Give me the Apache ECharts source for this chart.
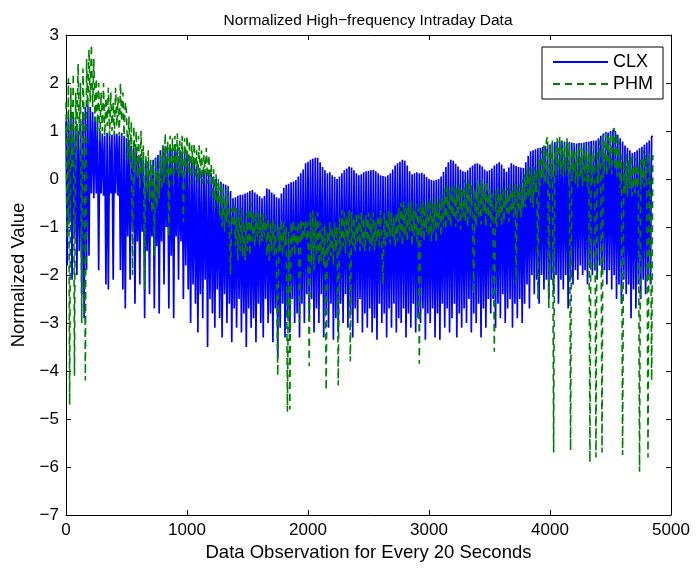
<!DOCTYPE html>
<html><head><meta charset="utf-8">
<script src="https://cdn.jsdelivr.net/npm/echarts@6/dist/echarts.min.js"></script>
<style>html,body{margin:0;padding:0;background:#fff}#c{width:696px;height:569px}</style>
</head><body><div id="c"></div>
<script>
// sampling interval (observations between consecutive stored values)
const STEP = 10;

const clx0 = [1.2,-1.8,1.3,-0.9,1.4,-2.1,1.3,-1.2,1.1,-2.0,1.0,-1.5,1.2,-2.4,1.4,-2.9,1.5,-1.9,1.55,-1.6,1.5,-0.3,1.4,-0.4,1.3,-0.3,1.2,-1.9,1.0,-0.3,0.95,-0.35,0.9,-2.2,0.96,-2.3,0.95,-0.3,0.92,-2.1,0.96,-0.3,0.94,-0.35,0.9,-1.9,0.96,-2.3,0.9,-2.7];
const clx1 = [0.85,-1.2,0.8,-2.1,0.7,-1.1,0.65,-2.6,0.6,-1.3,0.5,-2.2,0.45,-1.1,0.4,-2.9,0.38,-1.5,0.35,-2.4,0.3,-1.2,0.4,-2.7,0.45,-1.4,0.5,-2.8,0.6,-1.3,0.7,-2.2,0.68,-1.0,0.66,-2.7,0.64,-1.6,0.65,-2.9,0.66,-1.2,0.63,-2.1,0.6,-1.3,0.58,-2.5,0.56,-1.8];
const clx2 = [0.54,-2.3,0.48,-3.0,0.42,-2.2,0.35,-2.6,0.28,-3.2,0.2,-2.4,0.18,-2.9,0.2,-2.1,0.15,-3.5,0.16,-2.5,0.12,-2.8,0.05,-3.1,0.0,-2.3,-0.08,-2.9,-0.06,-3.3,-0.1,-2.4,-0.12,-3.0,-0.15,-2.6,-0.25,-3.4,-0.4,-2.7,-0.38,-3.1,-0.35,-2.5,-0.33,-3.2,-0.33,-2.8,-0.3,-3.5];
const clx3 = [-0.28,-2.7,-0.25,-3.1,-0.23,-2.9,-0.28,-3.4,-0.32,-2.6,-0.36,-3.0,-0.4,-3.3,-0.35,-2.5,-0.2,-3.0,-0.22,-2.8,-0.28,-3.4,-0.32,-2.7,-0.38,-3.7,-0.4,-3.1,-0.3,-2.6,-0.18,-3.3,-0.12,-2.9,-0.1,-3.2,-0.07,-2.5,-0.05,-3.0,-0.02,-2.8,0.05,-3.3,0.12,-2.6,0.2,-3.0,0.33,-2.4];
const clx4 = [0.36,-2.9,0.4,-2.5,0.42,-3.2,0.44,-2.7,0.44,-3.0,0.35,-2.4,0.25,-3.3,0.18,-2.8,0.12,-3.1,0.14,-2.6,0.08,-3.35,0.04,-2.9,0.0,-3.2,0.05,-2.6,0.12,-3.0,0.18,-2.4,0.22,-3.1,0.26,-2.8,0.24,-3.3,0.18,-2.7,0.12,-3.0,0.08,-2.5,0.1,-3.2,0.14,-2.8,0.16,-3.1];
const clx5 = [0.17,-2.7,0.18,-3.2,0.19,-2.9,0.16,-3.35,0.12,-2.6,0.08,-3.0,0.06,-2.8,0.05,-3.3,0.08,-2.7,0.12,-3.1,0.2,-2.6,0.28,-3.2,0.33,-2.9,0.36,-3.0,0.4,-2.7,0.38,-3.3,0.28,-2.8,0.16,-3.1,0.1,-2.6,0.12,-3.2,0.14,-2.9,0.12,-3.0,0.13,-2.7,0.1,-3.35,0.04,-2.8];
const clx6 = [0.0,-3.0,-0.02,-2.7,-0.03,-3.3,-0.02,-2.8,0.0,-3.35,0.05,-2.6,0.15,-3.1,0.25,-2.7,0.35,-3.2,0.4,-2.9,0.38,-2.6,0.32,-3.3,0.26,-2.8,0.2,-3.1,0.16,-2.7,0.15,-3.0,0.18,-2.5,0.24,-3.2,0.28,-2.8,0.32,-3.0,0.33,-2.6,0.3,-3.3,0.26,-2.7,0.2,-3.1,0.16,-2.5];
const clx7 = [0.18,-2.8,0.22,-2.5,0.28,-3.1,0.32,-2.6,0.35,-2.9,0.3,-2.4,0.22,-3.0,0.15,-2.7,0.24,-2.5,0.33,-3.1,0.3,-2.6,0.27,-2.9,0.25,-2.5,0.24,-3.0,0.23,-2.6,0.35,-2.2,0.48,-2.7,0.58,-2.0,0.6,-2.4,0.62,-2.1,0.64,-2.6,0.65,-2.0,0.67,-2.3,0.68,-2.1,0.7,-2.5];
const clx8 = [0.72,-2.1,0.75,-2.4,0.77,-2.0,0.78,-2.6,0.8,-2.1,0.79,-2.3,0.78,-2.0,0.77,-2.7,0.77,-2.1,0.76,-2.2,0.75,-1.9,0.74,-2.1,0.75,-1.8,0.75,-2.0,0.76,-1.9,0.77,-2.2,0.78,-1.85,0.79,-2.0,0.8,-1.9,0.8,-2.1,0.85,-1.8,0.9,-2.0,0.95,-1.9,0.98,-2.2,0.97,-1.9];
const clx9 = [1.0,-2.3,1.02,-2.0,1.0,-2.5,0.92,-2.2,0.85,-2.6,0.78,-2.1,0.7,-2.4,0.65,-2.2,0.6,-2.9,0.54,-2.3,0.56,-2.7,0.6,-2.2,0.64,-2.5,0.67,-2.1,0.72,-2.4,0.76,-2.0,0.8,-2.2,0.88,0.9];

const phm0 = [1.6,-1.2,2.1,-4.7,1.9,0.2,2.2,-4.1,1.8,0.6,2.4,0.9,2.0,-3.0,2.3,1.2,-4.2,2.5,1.4,2.7,1.6,2.8,1.5,2.5,1.2,2.1,1.0,2.0,0.8,1.8,1.0,2.0,0.9,1.7,1.1,1.9,0.9,1.8,1.0,1.6,0.9,1.9,1.1,1.7,0.9,2.0,1.2,1.8,0.9,1.6];
const phm1 = [1.4,0.4,1.3,0.3,1.2,-2.0,1.1,0.2,1.0,0.0,0.9,-0.2,1.0,0.1,0.7,-2.3,0.5,-0.3,0.6,-0.5,0.4,-0.7,0.3,-1.6,0.45,-0.6,0.2,-0.4,0.5,-0.2,0.7,-0.1,0.95,0.0,0.8,-1.2,0.9,0.1,0.85,-0.1,0.9,0.2,0.95,0.0,0.8,0.1,0.9,-0.9,0.85,0.2];
const phm2 = [0.9,0.1,0.8,-0.1,0.7,0.2,0.75,0.0,0.6,-0.1,0.7,0.0,0.6,-0.1,0.5,0.1,0.65,-0.1,0.5,0.0,0.3,-0.4,0.2,-0.6,0.1,-0.5,0.0,-0.8,-0.1,-1.0,-0.2,-1.1,-0.3,-0.9,-0.2,-1.1,-2.0,-0.6,-1.0,-0.5,-1.4,-0.6,-1.7,-0.8,-1.5,-0.6,-1.6,-0.9,-1.7,-0.7];
const phm3 = [-1.5,-0.6,-1.6,-0.5,-1.3,-0.7,-1.4,-0.7,-1.2,-0.65,-1.4,-0.8,-1.3,-0.7,-1.2,-0.75,-1.6,-0.8,-1.7,-0.9,-1.5,-0.8,-1.6,-0.9,-1.7,-4.1,-1.0,-1.5,-0.85,-1.6,-0.9,-1.4,-1.0,-4.85,-1.1,-4.8,-0.9,-1.5,-0.85,-1.6,-1.0,-1.4,-0.9,-3.0,-0.85,-1.3,-0.9,-1.2,-0.85,-1.3];
const phm4 = [-0.9,-3.9,-0.7,-1.8,-0.65,-1.9,-0.8,-1.6,-0.7,-1.8,-0.9,-1.7,-1.0,-1.8,-0.95,-4.4,-1.1,-1.7,-0.9,-1.6,-1.0,-1.8,-0.9,-1.5,-1.0,-4.3,-0.8,-1.5,-0.65,-1.4,-0.7,-1.55,-0.75,-1.3,-0.65,-3.8,-0.7,-1.4,-0.8,-1.5,-0.7,-1.3,-0.75,-1.5,-0.7,-1.4,-0.8,-1.5,-0.75,-1.3];
const phm5 = [-0.7,-1.5,-0.8,-1.4,-0.7,-1.5,-0.9,-1.3,-0.75,-1.4,-0.65,-1.3,-2.2,-0.7,-1.4,-0.8,-1.2,-0.65,-1.35,-0.7,-1.2,-0.8,-1.4,-0.7,-1.3,-0.6,-1.2,-0.5,-1.4,-0.45,-1.2,-0.6,-1.3,-0.5,-1.1,-0.45,-1.4,-0.6,-1.2,-0.5,-1.3,-0.6,-3.85,-0.5,-1.2,-0.45,-1.3,-0.55,-1.1,-0.45];
const phm6 = [-1.2,-0.4,-1.3,-0.5,-1.1,-0.37,-1.33,-0.5,-1.0,-0.4,-1.2,-0.3,-1.0,-0.2,-1.06,-0.1,-0.9,-0.2,-1.0,-0.15,-0.8,-0.1,-1.0,-0.2,-0.9,-0.1,-1.05,-0.2,-0.8,0.0,-0.9,-0.1,-1.0,0.0,-0.8,-0.1,-0.9,-2.4,-0.2,-1.0,0.0,-0.8,-0.1,-0.95,0.0,-0.7,-0.1,-1.0,-0.05,-0.8];
const phm7 = [-0.2,-1.0,-0.3,-0.9,-3.6,-0.2,-1.0,-0.17,-0.8,-0.3,-1.0,-0.2,-0.9,-0.25,-0.7,-0.17,-0.9,-0.1,-0.7,-0.2,-0.8,-0.1,-2.2,-0.15,-0.7,-0.1,-0.8,0.0,-0.6,0.1,-0.6,0.2,-0.4,0.25,-0.5,0.15,-0.6,0.25,-0.3,0.2,-2.5,0.4,-0.15,0.6,0.0,0.7,-0.1,0.8,0.88,-2.7];
const phm8 = [0.7,0.0,0.8,-5.7,0.6,0.05,0.85,0.2,0.88,0.1,0.8,0.05,0.7,0.15,0.85,0.05,0.75,-5.65,0.6,0.1,0.75,-0.1,0.6,-0.17,0.7,0.0,0.65,-0.15,0.75,-0.05,0.6,-0.17,0.7,-5.9,0.5,-0.1,0.7,0.0,-5.8,0.6,-0.1,0.8,0.05,-5.7,0.9,0.1,0.95,0.05,0.9,0.2];
const phm9 = [0.95,0.1,1.0,1.06,0.2,0.96,0.05,0.8,-0.2,0.5,-5.75,0.4,-0.3,0.54,-0.37,0.4,-0.2,0.5,-0.35,0.3,-0.3,0.45,-0.2,0.3,-6.1,0.4,-0.1,0.6,-0.17,0.5,0.0,-5.8,0.55,-0.1,-4.2,0.5];

const xTicks = [0, 1000, 2000, 3000, 4000, 5000];
const yTicks = [-7, -6, -5, -4, -3, -2, -1, 0, 1, 2, 3];

const clx = [].concat(clx0, clx1, clx2, clx3, clx4, clx5, clx6, clx7, clx8, clx9);
const phm = [].concat(phm0, phm1, phm2, phm3, phm4, phm5, phm6, phm7, phm8, phm9);
const toPairs = arr => arr.map((v, i) => [i * STEP, v]);

const FONT = '"Liberation Sans", Arial, Helvetica, sans-serif';
const minus = v => String(v).replace('-', '\u2212');

const chart = echarts.init(document.getElementById('c'), null, {renderer: 'canvas'});
const tickCommon = {show: true, inside: true, length: 5, lineStyle: {color: '#000', width: 1}};
const lineCommon = {show: true, onZero: false, lineStyle: {color: '#000', width: 1}};
chart.setOption({
  animation: false,
  backgroundColor: '#fff',
  textStyle: {fontFamily: FONT},
  title: {
    text: 'Normalized High\u2212frequency Intraday Data',
    left: 363, top: 8, textAlign: 'center',
    textStyle: {fontFamily: FONT, fontSize: 15.5, fontWeight: 'normal', color: '#000'}
  },
  legend: {
    orient: 'vertical', right: 33, top: 47,
    backgroundColor: '#fff', borderColor: '#000', borderWidth: 1, borderRadius: 0,
    padding: [6, 10, 6, 10], itemGap: 4, itemWidth: 55, itemHeight: 14,
    itemStyle: {color: 'rgba(0,0,0,0)', borderWidth: 0, opacity: 0},
    textStyle: {fontFamily: FONT, fontSize: 18, color: '#000'},
    data: ['CLX', 'PHM']
  },
  grid: {left: 66, right: 25, top: 35, bottom: 54, containLabel: false},
  xAxis: [{
    type: 'value', min: 0, max: 5000, interval: 1000, position: 'bottom',
    name: 'Data Observation for Every 20 Seconds', nameLocation: 'middle', nameGap: 28,
    nameTextStyle: {fontFamily: FONT, fontSize: 18.5, color: '#000'},
    axisLine: lineCommon, axisTick: tickCommon, splitLine: {show: false},
    axisLabel: {fontFamily: FONT, fontSize: 17, color: '#000', margin: 7, formatter: minus}
  }, {
    type: 'value', min: 0, max: 5000, interval: 1000, position: 'top',
    axisLine: lineCommon, axisTick: tickCommon, splitLine: {show: false}, axisLabel: {show: false}
  }],
  yAxis: [{
    type: 'value', min: -7, max: 3, interval: 1, position: 'left',
    name: 'Normalized Value', nameLocation: 'middle', nameGap: 30, nameRotate: 90,
    nameTextStyle: {fontFamily: FONT, fontSize: 18.5, color: '#000'},
    axisLine: lineCommon, axisTick: tickCommon, splitLine: {show: false},
    axisLabel: {fontFamily: FONT, fontSize: 17, color: '#000', margin: 7, formatter: minus}
  }, {
    type: 'value', min: -7, max: 3, interval: 1, position: 'right',
    axisLine: lineCommon, axisTick: tickCommon, splitLine: {show: false}, axisLabel: {show: false}
  }],
  series: [{
    name: 'CLX', type: 'line', data: toPairs(clx), xAxisIndex: 0, yAxisIndex: 0,
    symbol: 'none', showSymbol: false, color: '#0000ff',
    lineStyle: {color: '#0000ff', width: 1.7}
  }, {
    name: 'PHM', type: 'line', data: toPairs(phm), xAxisIndex: 0, yAxisIndex: 0,
    symbol: 'none', showSymbol: false, color: '#008000',
    lineStyle: {color: '#008000', width: 1.6, type: [7, 5]}
  }]
});
</script></body></html>
